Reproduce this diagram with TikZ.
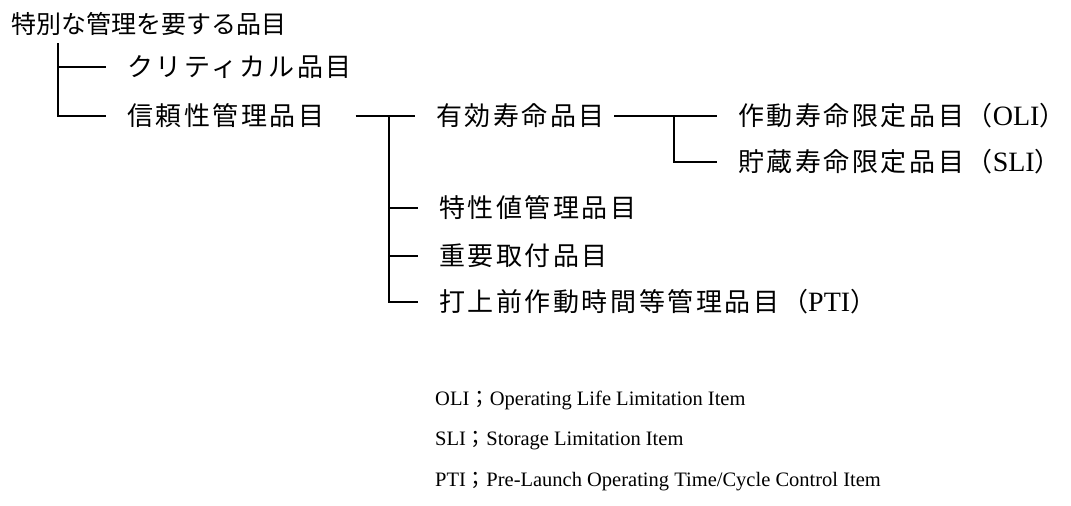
\documentclass[tikz,border=0pt]{standalone}
\usepackage{fontspec}
\setmainfont{Liberation Serif}
\newfontfamily\jpfont{Noto Sans CJK JP}
\newfontfamily\jpwide[LetterSpace=10]{Noto Sans CJK JP}
\newcommand\abbr[1]{{\rmfamily\fontsize{28}{30}\selectfont #1}}
\usetikzlibrary{positioning,calc}

\begin{document}
\begin{tikzpicture}[
    x=1pt,y=-1pt,
    hd/.style   = {anchor=west,inner sep=0pt,font=\fontsize{25}{28}\selectfont\jpfont},
    itm/.style  = {anchor=west,inner sep=0pt,outer xsep=21pt,
                   font=\fontsize{26}{30}\selectfont\jpwide},
    key/.style  = {anchor=west,inner sep=0pt,font=\fontsize{20.5}{24}\selectfont},
    ln/.style   = {line width=1.5pt},
  ]
  \useasboundingbox (0,0) rectangle (1071,506);

  \node[hd]  (top)  at (11,24)   {特別な管理を要する品目};

  \node[itm] (crit) at (106,67)  {クリティカル品目};
  \node[itm] (rel)  at (106,116) {信頼性管理品目};

  \node[itm] (eff)  at (415,116) {有効寿命品目};
  \node[itm] (oli)  at (717,116) {作動寿命限定品目（\abbr{OLI}）};
  \node[itm] (sli)  at (717,162) {貯蔵寿命限定品目（\abbr{SLI}）};

  \node[itm] (spec) at (418,208) {特性値管理品目};
  \node[itm] (imp)  at (418,256) {重要取付品目};
  \node[itm] (pti)  at (418,302) {打上前作動時間等管理品目（\abbr{PTI}）};

  % junctions of the tree
  \coordinate (j1) at (58,43);
  \coordinate (j2) at (389,116);
  \coordinate (j3) at (674,116);

  \draw[ln] (j1) |- (crit.west);
  \draw[ln] (j1) |- (rel.west);

  \draw[ln] ([xshift=10pt]rel.east) -- (eff.west);
  \draw[ln] (j2) |- (spec.west);
  \draw[ln] (j2) |- (imp.west);
  \draw[ln] (j2) |- (pti.west);

  \draw[ln] ([xshift=-12pt]eff.east) -- (oli.west);
  \draw[ln] (j3) |- (sli.west);

  \node[key] (kol) at (435,400) {OLI{\jpfont ；}Operating Life Limitation Item};
  \node[key] (ksl) at (435,441) {SLI{\jpfont ；}Storage Limitation Item};
  \node[key] (kpt) at (435,482) {PTI{\jpfont ；}Pre-Launch Operating Time/Cycle Control Item};

\end{tikzpicture}
\end{document}
